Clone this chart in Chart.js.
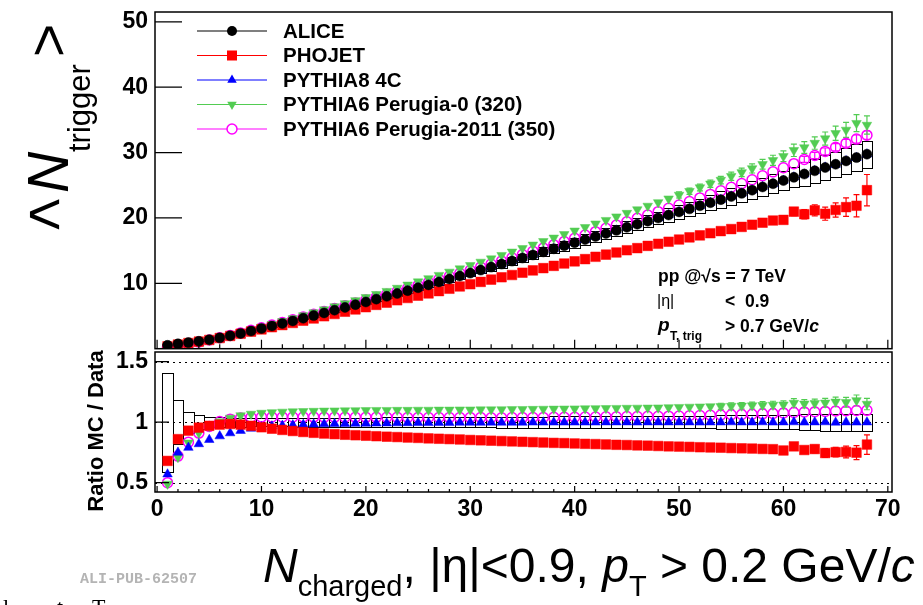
<!DOCTYPE html>
<html>
<head>
<meta charset="utf-8">
<script src="https://cdn.jsdelivr.net/npm/chart.js@4.4.1/dist/chart.umd.min.js"></script>
<style>
html, body { margin: 0; padding: 0; background: #fff; }
#wrap { position: relative; width: 923px; height: 605px; overflow: hidden; }
#topChart { position: absolute; left: 0; top: 0; }
#ratioChart { position: absolute; left: 0; top: 340px; }
</style>
</head>
<body>
<div id="wrap">
<canvas id="topChart" width="923" height="356"></canvas>
<canvas id="ratioChart" width="923" height="265"></canvas>
</div>
<script>
// multiplicity bins (x)
const nCharged = [
    1, 2, 3, 4, 5, 6, 7, 8, 9, 10,
    11, 12, 13, 14, 15, 16, 17, 18, 19, 20,
    21, 22, 23, 24, 25, 26, 27, 28, 29, 30,
    31, 32, 33, 34, 35, 36, 37, 38, 39, 40,
    41, 42, 43, 44, 45, 46, 47, 48, 49, 50,
    51, 52, 53, 54, 55, 56, 57, 58, 59, 60,
    61, 62, 63, 64, 65, 66, 67, 68,
];

// ALICE <N_trigger>
const aliceMean = [
    0.52, 0.74, 0.93, 1.13, 1.38, 1.66, 1.98, 2.33, 2.70, 3.08,
    3.47, 3.86, 4.25, 4.66, 5.06, 5.47, 5.89, 6.31, 6.73, 7.15,
    7.58, 8.01, 8.44, 8.88, 9.32, 9.76, 10.21, 10.66, 11.11, 11.56,
    12.02, 12.48, 12.94, 13.40, 13.87, 14.34, 14.81, 15.28, 15.75, 16.22,
    16.69, 17.16, 17.63, 18.10, 18.57, 19.04, 19.51, 19.98, 20.45, 20.92,
    21.39, 21.86, 22.33, 22.80, 23.28, 23.76, 24.25, 24.74, 25.23, 25.72,
    26.21, 26.71, 27.21, 27.71, 28.21, 28.72, 29.23, 29.75,
];

// relative systematic uncertainty of the data (boxes)
const aliceSystRel = [
    0.41, 0.18, 0.088, 0.056, 0.043, 0.039, 0.037, 0.036, 0.035, 0.035,
    0.035, 0.035, 0.036, 0.036, 0.036, 0.037, 0.037, 0.037, 0.038, 0.038,
    0.038, 0.039, 0.039, 0.039, 0.040, 0.040, 0.040, 0.041, 0.041, 0.042,
    0.042, 0.043, 0.045, 0.045, 0.046, 0.046, 0.046, 0.047, 0.047, 0.047,
    0.047, 0.048, 0.048, 0.048, 0.048, 0.049, 0.049, 0.049, 0.050, 0.050,
    0.050, 0.050, 0.051, 0.056, 0.056, 0.057, 0.057, 0.058, 0.058, 0.059,
    0.059, 0.068, 0.068, 0.069, 0.069, 0.070, 0.070, 0.070,
];

// MC / data ratios
const ratioPhojet = [
    0.68, 0.86, 0.93, 0.955, 0.97, 0.98, 0.985, 0.98, 0.97, 0.958,
    0.946, 0.936, 0.927, 0.919, 0.912, 0.906, 0.901, 0.896, 0.892, 0.888,
    0.884, 0.880, 0.877, 0.873, 0.870, 0.866, 0.863, 0.860, 0.857, 0.853,
    0.850, 0.847, 0.844, 0.841, 0.838, 0.835, 0.832, 0.829, 0.827, 0.824,
    0.821, 0.819, 0.816, 0.813, 0.811, 0.808, 0.806, 0.803, 0.800, 0.798,
    0.796, 0.793, 0.791, 0.789, 0.786, 0.784, 0.782, 0.779, 0.777, 0.766,
    0.800, 0.770, 0.778, 0.745, 0.752, 0.754, 0.748, 0.815,
];
const ratioPythia8 = [
    0.57, 0.75, 0.79, 0.82, 0.855, 0.885, 0.91, 0.93, 0.948, 0.96,
    0.967, 0.972, 0.976, 0.980, 0.983, 0.985, 0.987, 0.988, 0.989, 0.990,
    0.991, 0.992, 0.993, 0.994, 0.995, 0.995, 0.996, 0.996, 0.997, 0.997,
    0.997, 0.998, 0.998, 0.998, 0.998, 0.999, 0.999, 0.999, 0.999, 0.999,
    0.999, 0.999, 1.000, 1.000, 1.000, 0.999, 1.000, 1.000, 1.000, 1.000,
    1.000, 0.999, 1.000, 1.000, 1.001, 1.000, 1.000, 1.001, 0.999, 1.000,
    1.001, 0.999, 1.000, 1.001, 0.998, 1.000, 0.999, 1.000,
];
const ratioPerugia0 = [
    0.49, 0.71, 0.83, 0.91, 0.965, 1.005, 1.035, 1.055, 1.068, 1.076,
    1.081, 1.085, 1.088, 1.090, 1.092, 1.094, 1.095, 1.096, 1.097, 1.098,
    1.099, 1.099, 1.100, 1.100, 1.101, 1.101, 1.102, 1.102, 1.103, 1.103,
    1.104, 1.104, 1.105, 1.106, 1.107, 1.108, 1.109, 1.110, 1.111, 1.112,
    1.113, 1.114, 1.115, 1.116, 1.117, 1.118, 1.119, 1.120, 1.122, 1.124,
    1.126, 1.128, 1.130, 1.131, 1.133, 1.135, 1.137, 1.140, 1.142, 1.144,
    1.158, 1.152, 1.156, 1.160, 1.168, 1.165, 1.180, 1.150,
];
const ratioPerugia2011 = [
    0.50, 0.72, 0.835, 0.91, 0.965, 1.005, 1.025, 1.035, 1.040, 1.042,
    1.043, 1.043, 1.043, 1.042, 1.042, 1.041, 1.041, 1.041, 1.040, 1.040,
    1.040, 1.040, 1.040, 1.039, 1.039, 1.039, 1.039, 1.038, 1.038, 1.038,
    1.038, 1.037, 1.037, 1.038, 1.038, 1.039, 1.039, 1.040, 1.040, 1.041,
    1.042, 1.043, 1.044, 1.045, 1.046, 1.047, 1.048, 1.049, 1.050, 1.051,
    1.053, 1.055, 1.057, 1.059, 1.061, 1.063, 1.066, 1.069, 1.072, 1.076,
    1.080, 1.084, 1.086, 1.089, 1.092, 1.094, 1.097, 1.098,
];

// statistical errors of the MC, in <N_trigger> units
const errPhojet = [
    0.01, 0.01, 0.01, 0.01, 0.01, 0.01, 0.01, 0.01, 0.02, 0.02,
    0.02, 0.02, 0.02, 0.02, 0.03, 0.03, 0.03, 0.03, 0.03, 0.03,
    0.04, 0.04, 0.04, 0.04, 0.04, 0.05, 0.05, 0.05, 0.05, 0.06,
    0.06, 0.06, 0.07, 0.07, 0.07, 0.08, 0.08, 0.09, 0.09, 0.10,
    0.10, 0.11, 0.11, 0.12, 0.13, 0.13, 0.14, 0.15, 0.16, 0.17,
    0.18, 0.19, 0.20, 0.21, 0.23, 0.24, 0.26, 0.28, 0.30, 0.32,
    0.60, 0.70, 0.85, 1.00, 1.10, 1.40, 1.70, 2.40,
];
const errPerugia0 = [
    0.01, 0.01, 0.01, 0.01, 0.01, 0.01, 0.02, 0.02, 0.02, 0.02,
    0.03, 0.03, 0.03, 0.04, 0.04, 0.04, 0.05, 0.05, 0.06, 0.06,
    0.07, 0.07, 0.08, 0.08, 0.09, 0.10, 0.10, 0.11, 0.12, 0.13,
    0.14, 0.15, 0.16, 0.17, 0.18, 0.19, 0.20, 0.22, 0.23, 0.25,
    0.26, 0.28, 0.30, 0.32, 0.34, 0.36, 0.38, 0.40, 0.43, 0.46,
    0.49, 0.52, 0.55, 0.58, 0.62, 0.66, 0.70, 0.74, 0.78, 0.82,
    0.95, 0.90, 0.95, 1.00, 1.10, 1.15, 1.30, 1.40,
];
const errPerugia2011 = [
    0.01, 0.01, 0.01, 0.01, 0.01, 0.01, 0.01, 0.01, 0.01, 0.01,
    0.02, 0.02, 0.02, 0.02, 0.02, 0.02, 0.03, 0.03, 0.03, 0.03,
    0.04, 0.04, 0.04, 0.04, 0.05, 0.05, 0.05, 0.06, 0.06, 0.06,
    0.07, 0.07, 0.08, 0.08, 0.09, 0.09, 0.10, 0.11, 0.11, 0.12,
    0.13, 0.14, 0.15, 0.16, 0.17, 0.18, 0.19, 0.20, 0.21, 0.22,
    0.24, 0.25, 0.27, 0.28, 0.30, 0.32, 0.34, 0.36, 0.38, 0.40,
    0.44, 0.46, 0.48, 0.52, 0.55, 0.58, 0.62, 0.66,
];

const xTickValues = [0, 10, 20, 30, 40, 50, 60, 70];
const yTickTop = [10, 20, 30, 40, 50];
const yTickRatio = [0.5, 1, 1.5];

const seriesNames = ["ALICE", "PHOJET", "PYTHIA8 4C", "PYTHIA6 Perugia-0 (320)", "PYTHIA6 Perugia-2011 (350)"];
const seriesColors = ["#000000", "#ff0000", "#0000ff", "#52cc52", "#ff00ff"];

const FONT = '"Liberation Sans", Arial, sans-serif';

// MC values in the top panel come from data * ratio
const phojetMean = aliceMean.map((v, i) => v * ratioPhojet[i]);
const pythia8Mean = aliceMean.map((v, i) => v * ratioPythia8[i]);
const perugia0Mean = aliceMean.map((v, i) => v * ratioPerugia0[i]);
const perugia2011Mean = aliceMean.map((v, i) => v * ratioPerugia2011[i]);
const unitLine = nCharged.map(() => 1);

const markerStyles = [
    { pointStyle: "circle", radius: 5, rotation: 0, fill: true },
    { pointStyle: "rect", radius: 6.8, rotation: 0, fill: true },
    { pointStyle: "triangle", radius: 5.5, rotation: 0, fill: true },
    { pointStyle: "triangle", radius: 5.5, rotation: 180, fill: true },
    { pointStyle: "circle", radius: 5, rotation: 0, fill: false },
];

function makeDataset(i, values) {
    const m = markerStyles[i];
    return {
        label: seriesNames[i],
        data: nCharged.map((n, k) => ({ x: n, y: values[k] })),
        showLine: false,
        pointStyle: m.pointStyle,
        pointRadius: m.radius,
        pointHoverRadius: m.radius,
        pointRotation: m.rotation,
        pointBackgroundColor: m.fill ? seriesColors[i] : "rgba(0,0,0,0)",
        pointBorderColor: seriesColors[i],
        pointBorderWidth: m.fill ? 0.5 : 1.5,
    };
}

function clipArea(ctx, a) {
    ctx.beginPath();
    ctx.rect(a.left, a.top, a.right - a.left, a.bottom - a.top);
    ctx.clip();
}

function drawSystBoxes(chart, centers) {
    const { ctx, chartArea: a, scales } = chart;
    ctx.save();
    clipArea(ctx, a);
    ctx.strokeStyle = "#000";
    ctx.lineWidth = 1;
    nCharged.forEach((n, i) => {
        const x0 = Math.round(scales.x.getPixelForValue(n - 0.5)) + 0.5;
        const x1 = Math.round(scales.x.getPixelForValue(n + 0.5)) + 0.5;
        const y0 = Math.round(scales.y.getPixelForValue(centers[i] * (1 + aliceSystRel[i]))) + 0.5;
        const y1 = Math.round(scales.y.getPixelForValue(centers[i] * (1 - aliceSystRel[i]))) + 0.5;
        ctx.strokeRect(x0, y0, x1 - x0, y1 - y0);
    });
    ctx.restore();
}

function drawErrorBars(chart, list) {
    const { ctx, chartArea: a, scales } = chart;
    ctx.save();
    clipArea(ctx, a);
    ctx.lineWidth = 1.2;
    list.forEach(([vals, errs, color]) => {
        ctx.strokeStyle = color;
        ctx.beginPath();
        nCharged.forEach((n, i) => {
            const px = scales.x.getPixelForValue(n);
            const yt = scales.y.getPixelForValue(vals[i] + errs[i]);
            const yb = scales.y.getPixelForValue(vals[i] - errs[i]);
            if (yb - yt < 6) return;
            ctx.moveTo(px, yt); ctx.lineTo(px, yb);
            ctx.moveTo(px - 3, yt); ctx.lineTo(px + 3, yt);
            ctx.moveTo(px - 3, yb); ctx.lineTo(px + 3, yb);
        });
        ctx.stroke();
    });
    ctx.restore();
}

function drawFrame(chart, cfg) {
    const { ctx, chartArea: a, scales } = chart;
    ctx.save();
    ctx.strokeStyle = "#000";
    ctx.lineWidth = 1.5;
    ctx.strokeRect(a.left, a.top, a.right - a.left, a.bottom - a.top);
    ctx.lineWidth = 1.2;
    ctx.beginPath();
    xTickValues.forEach((v, i) => {
        const px = scales.x.getPixelForValue(v);
        ctx.moveTo(px, a.bottom); ctx.lineTo(px, a.bottom - cfg.xMajor);
        if (i < xTickValues.length - 1) {
            const step = (xTickValues[i + 1] - v) / 5;
            for (let k = 1; k < 5; k++) {
                const pm = scales.x.getPixelForValue(v + k * step);
                ctx.moveTo(pm, a.bottom); ctx.lineTo(pm, a.bottom - cfg.xMinor);
            }
        }
    });
    cfg.yTicks.forEach((v) => {
        const py = scales.y.getPixelForValue(v);
        ctx.moveTo(a.left, py); ctx.lineTo(a.left + cfg.yMajor, py);
    });
    ctx.stroke();
    ctx.restore();
}

function drawLegendMarker(ctx, i, x, y) {
    const c = seriesColors[i];
    const r = 5.5;
    ctx.fillStyle = c;
    ctx.strokeStyle = c;
    ctx.beginPath();
    if (i === 0) {
        ctx.arc(x, y, 5, 0, 2 * Math.PI);
        ctx.fill();
    } else if (i === 1) {
        ctx.fillRect(x - 5, y - 5, 10, 10);
    } else if (i === 2) {
        ctx.moveTo(x, y - r); ctx.lineTo(x + 0.866 * r, y + 0.5 * r); ctx.lineTo(x - 0.866 * r, y + 0.5 * r);
        ctx.closePath(); ctx.fill();
    } else if (i === 3) {
        ctx.moveTo(x, y + r); ctx.lineTo(x + 0.866 * r, y - 0.5 * r); ctx.lineTo(x - 0.866 * r, y - 0.5 * r);
        ctx.closePath(); ctx.fill();
    } else {
        ctx.lineWidth = 1.5;
        ctx.arc(x, y, 5, 0, 2 * Math.PI);
        ctx.fillStyle = "#fff";
        ctx.fill();
        ctx.stroke();
    }
}

function drawLegend(ctx) {
    ctx.save();
    seriesNames.forEach((name, i) => {
        const y = 31 + i * 24.5;
        ctx.strokeStyle = seriesColors[i];
        ctx.lineWidth = 1.2;
        ctx.beginPath(); ctx.moveTo(197, y); ctx.lineTo(267, y); ctx.stroke();
        drawLegendMarker(ctx, i, 232, y);
        ctx.fillStyle = "#000";
        ctx.font = "bold 20.5px " + FONT;
        ctx.textBaseline = "middle";
        ctx.textAlign = "left";
        ctx.fillText(name, 283, y + 1);
    });
    ctx.restore();
}

function drawRun(ctx, parts, x) {
    parts.forEach(([font, text, y]) => {
        ctx.font = font;
        ctx.fillText(text, x, y);
        x += ctx.measureText(text).width;
    });
}

function drawAnnotation(ctx) {
    ctx.save();
    ctx.fillStyle = "#000";
    ctx.textAlign = "left";
    ctx.textBaseline = "middle";
    ctx.font = "bold 17.5px " + FONT;
    ctx.fillText("pp @\u221As = 7 TeV", 658, 277);
    ctx.font = "16px " + FONT;
    ctx.fillText("|\u03B7|", 657, 302);
    ctx.font = "bold 17.5px " + FONT;
    ctx.fillText("<  0.9", 725, 302);
    ctx.font = "bold italic 19px " + FONT;
    ctx.fillText("p", 658, 326);
    ctx.font = "bold 12px " + FONT;
    ctx.fillText("T, trig", 670, 337);
    drawRun(ctx, [["bold 17.5px " + FONT, "> 0.7 GeV/", 327], ["bold italic 17.5px " + FONT, "c", 327]], 725);
    ctx.restore();
}

function drawYTitle(ctx) {
    ctx.save();
    ctx.fillStyle = "#000";
    ctx.textBaseline = "alphabetic";
    ctx.textAlign = "left";
    ctx.translate(68, 193);
    ctx.rotate(-Math.PI / 2);
    ctx.font = "italic 57px " + FONT;
    ctx.fillText("N", 0, 0);
    ctx.font = "31px " + FONT;
    ctx.fillText("trigger", 41, 22);
    ctx.font = "57px " + FONT;
    ctx.fillText(">", 136, 0);
    ctx.restore();
    ctx.save();
    ctx.fillStyle = "#000";
    ctx.font = "60px " + FONT;
    ctx.fillText("<", 27, 234);
    ctx.restore();
}

function drawBottomTexts(ctx) {
    const oy = 340;
    ctx.save();
    ctx.fillStyle = "#000";
    // ratio axis title
    ctx.save();
    ctx.translate(97, 431 - oy);
    ctx.rotate(-Math.PI / 2);
    ctx.font = "bold 22px " + FONT;
    ctx.textAlign = "center";
    ctx.textBaseline = "middle";
    ctx.fillText("Ratio MC / Data", 0, 0);
    ctx.restore();
    // x axis title
    ctx.textAlign = "left";
    ctx.textBaseline = "alphabetic";
    const base = 582 - oy, sub = base + 14;
    drawRun(ctx, [
        ["italic 48px " + FONT, "N", base],
        ["29px " + FONT, "charged", sub],
        ["48px " + FONT, ", |\u03B7|<0.9, ", base],
        ["italic 48px " + FONT, "p", base],
        ["29px " + FONT, "T", sub],
        ["48px " + FONT, " > 0.2 GeV/", base],
        ["italic 48px " + FONT, "c", base],
    ], 263);
    // stamp
    ctx.fillStyle = "#b4b4b4";
    ctx.font = 'bold 15px "Liberation Mono", monospace';
    ctx.fillText("ALI-PUB-62507", 80, 583 - oy);
    // cut-off caption text at the page edge
    ctx.fillStyle = "#000";
    ctx.font = '22px "Liberation Serif", serif';
    ctx.fillText("l", 3, 614 - oy);
    ctx.fillText("t", 57, 614 - oy);
    ctx.fillText("T", 92, 614 - oy);
    ctx.restore();
}

// keep the chart area where the frame must be: no label overflow padding
function noPadding(s) {
    s.paddingTop = 0;
    s.paddingBottom = 0;
    s.paddingLeft = 0;
    s.paddingRight = 0;
}

function xScale(showLabels, height) {
    return {
        type: "linear",
        min: -0.2,
        max: 70.4,
        display: showLabels,
        afterBuildTicks: (s) => { s.ticks = xTickValues.map((v) => ({ value: v })); },
        afterFit: (s) => { s.height = height; noPadding(s); },
        grid: { display: false, drawTicks: false },
        border: { display: false },
        ticks: {
            autoSkip: false,
            maxRotation: 0,
            padding: 4,
            color: "#000",
            font: { family: FONT, size: 23, weight: "bold" },
            callback: (v) => String(v),
        },
    };
}

function yScale(min, max, tickValues) {
    return {
        type: "linear",
        min: min,
        max: max,
        afterBuildTicks: (s) => { s.ticks = tickValues.map((v) => ({ value: v })); },
        afterFit: (s) => { s.width = 155; noPadding(s); },
        grid: { display: false, drawTicks: false },
        border: { display: false },
        ticks: {
            padding: 7,
            color: "#000",
            font: { family: FONT, size: 23, weight: "bold" },
            callback: (v) => String(v),
        },
    };
}

const topDecor = {
    id: "topDecor",
    beforeDatasetsDraw(chart) {
        drawSystBoxes(chart, aliceMean);
        drawErrorBars(chart, [
            [perugia2011Mean, errPerugia2011, seriesColors[4]],
            [perugia0Mean, errPerugia0, seriesColors[3]],
            [phojetMean, errPhojet, seriesColors[1]],
        ]);
    },
    afterDraw(chart) {
        drawFrame(chart, { xMajor: 9, xMinor: 4.5, yMajor: 27, yTicks: yTickTop });
        drawLegend(chart.ctx);
        drawAnnotation(chart.ctx);
        drawYTitle(chart.ctx);
    },
};

const ratioDecor = {
    id: "ratioDecor",
    beforeDatasetsDraw(chart) {
        const { ctx, chartArea: a, scales } = chart;
        ctx.save();
        ctx.strokeStyle = "#000";
        ctx.lineWidth = 1;
        ctx.setLineDash([2, 4]);
        ctx.beginPath();
        yTickRatio.forEach((v) => {
            const py = Math.round(scales.y.getPixelForValue(v)) + 0.5;
            ctx.moveTo(a.left, py); ctx.lineTo(a.right, py);
        });
        ctx.stroke();
        ctx.restore();
        drawSystBoxes(chart, unitLine);
        drawErrorBars(chart, [
            [ratioPerugia2011, errPerugia2011.map((e, i) => e / aliceMean[i]), seriesColors[4]],
            [ratioPerugia0, errPerugia0.map((e, i) => e / aliceMean[i]), seriesColors[3]],
            [ratioPhojet, errPhojet.map((e, i) => e / aliceMean[i]), seriesColors[1]],
        ]);
    },
    afterDraw(chart) {
        drawFrame(chart, { xMajor: 6, xMinor: 3, yMajor: 14, yTicks: yTickRatio });
        drawBottomTexts(chart.ctx);
    },
};

const topChart = new Chart(document.getElementById("topChart").getContext("2d"), {
    type: "scatter",
    data: {
        datasets: [
            makeDataset(0, aliceMean),
            makeDataset(1, phojetMean),
            makeDataset(2, pythia8Mean),
            makeDataset(3, perugia0Mean),
            makeDataset(4, perugia2011Mean),
        ],
    },
    options: {
        responsive: false,
        animation: false,
        events: [],
        layout: { padding: { left: 0, right: 31, top: 12, bottom: 4 } },
        scales: {
            x: xScale(false, 0),
            y: yScale(0, 51.5, yTickTop),
        },
        plugins: { legend: { display: false }, tooltip: { enabled: false } },
    },
    plugins: [topDecor],
});

const ratioChart = new Chart(document.getElementById("ratioChart").getContext("2d"), {
    type: "scatter",
    data: {
        datasets: [
            makeDataset(1, ratioPhojet),
            makeDataset(2, ratioPythia8),
            makeDataset(3, ratioPerugia0),
            makeDataset(4, ratioPerugia2011),
        ],
    },
    options: {
        responsive: false,
        animation: false,
        events: [],
        layout: { padding: { left: 0, right: 31, top: 12, bottom: 0 } },
        scales: {
            x: xScale(true, 113),
            y: yScale(0.423, 1.58, yTickRatio),
        },
        plugins: { legend: { display: false }, tooltip: { enabled: false } },
    },
    plugins: [ratioDecor],
});
</script>
</body>
</html>
